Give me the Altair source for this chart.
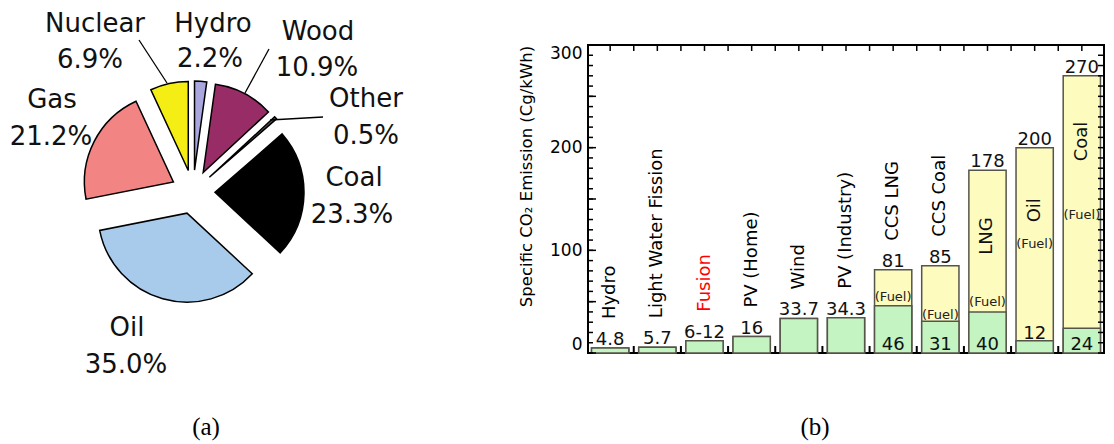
import altair as alt
import numpy as np
import pandas as pd

# ---------------- data : panel (a) ----------------
pie_labels = ["Hydro", "Wood", "Other", "Coal", "Oil", "Gas", "Nuclear"]
pie_shares = [2.2, 10.9, 0.5, 23.3, 35.0, 21.2, 6.9]

# ---------------- data : panel (b) ----------------
bar_categories = ["Hydro", "Light Water Fission", "Fusion", "PV (Home)", "Wind",
                  "PV (Industry)", "CCS LNG", "CCS Coal", "LNG", "Oil", "Coal"]
bar_base = [4.8, 5.7, 12, 16, 33.7, 34.3, 46, 31, 40, 12, 24]
bar_total = [4.8, 5.7, 12, 16, 33.7, 34.3, 81, 85, 178, 200, 270]
top_labels = ["4.8", "5.7", "6-12", "16", "33.7", "34.3", "81", "85", "178", "200", "270"]
base_labels = ["", "", "", "", "", "", "46", "31", "40", "12", "24"]

# ---------------- styles / layout ----------------
FONT = "DejaVu Sans"
SERIF = "Liberation Serif"
pie_colors = ["#aaa6de", "#982c66", "#555555", "#000000", "#a8cbec", "#f38484", "#f4ee14"]
PIE_W, PIE_H = 580, 428
PIE_CX, PIE_CY, PIE_R, PIE_EXPLODE = 185, 181, 89, 22
PIE_FONT = 26
# name x, name baseline y, pct x, pct baseline y (panel pixels)
pie_label_xy = {
    "Nuclear": (87, 21, 82, 57),
    "Hydro": (205, 21, 202, 56),
    "Wood": (310, 29, 309, 65),
    "Other": (358, 96, 358, 133),
    "Coal": (346, 175, 344, 212),
    "Oil": (119, 325, 118, 362),
    "Gas": (44, 97, 43, 134),
}
leader_lines = [(131, 29, 159, 72), (261, 38, 237, 82), (315, 106, 262, 109)]
caption_a_xy = (198, 416)

BAR_W, BAR_H, BAR_TOP = 516, 308, 34
GREEN, YELLOW, BAR_STROKE = "#c4f4c1", "#fdfbbe", "#55554a"
BAR_HALF = 0.395
TXT = 18
name_colors = ["black", "black", "red"] + ["black"] * 8
inbar_name_y = {"LNG": 114, "Oil": 139, "Coal": 206}
fuel_label_y = {"CCS LNG": 54.5, "CCS Coal": 37, "LNG": 50, "Oil": 106, "Coal": 134}
base_label_y = {"CCS LNG": 7.8, "CCS Coal": 7.8, "LNG": 7.8, "Oil": 18.5, "Coal": 7.8}
caption_b_xy = (227, 382)

# ---------------- panel (a): exploded pie ----------------
pie_df = pd.DataFrame({"k": list(range(len(pie_labels))), "label": pie_labels, "share": pie_shares})

px = alt.X("px:Q", scale=None, axis=None)
py = alt.Y("py:Q", scale=None, axis=None)

arcs = (
    alt.Chart(pie_df)
    .transform_window(end="sum(share)", sort=[alt.SortField("k")], frame=[None, 0])
    .transform_calculate(start="datum.end - datum.share")
    .transform_calculate(mid="(datum.start + datum.end) / 2 * 2 * PI / 100")
    .transform_calculate(px=f"{PIE_CX} + {PIE_EXPLODE} * sin(datum.mid)")
    .transform_calculate(py=f"{PIE_CY} - {PIE_EXPLODE} * cos(datum.mid)")
    .mark_arc(radius=PIE_R, stroke="black", strokeWidth=1.5)
    .encode(
        x=px, y=py,
        theta=alt.Theta("start:Q", stack=None,
                        scale=alt.Scale(domain=[0, 100], range=[0, 2 * np.pi])),
        theta2="end:Q",
        color=alt.Color("label:N", scale=alt.Scale(domain=pie_labels, range=pie_colors), legend=None),
    )
)

lab_df = pd.DataFrame({
    "label": pie_labels,
    "pct": [f"{s:.1f}%" for s in pie_shares],
})
lab_df["nx"] = [pie_label_xy[l][0] for l in pie_labels]
lab_df["ny"] = [pie_label_xy[l][1] for l in pie_labels]
lab_df["qx"] = [pie_label_xy[l][2] for l in pie_labels]
lab_df["qy"] = [pie_label_xy[l][3] for l in pie_labels]

names_a = alt.Chart(lab_df).mark_text(fontSize=PIE_FONT, font=FONT, color="#111",
                                      baseline="alphabetic", align="center").encode(
    x=alt.X("nx:Q", scale=None, axis=None), y=alt.Y("ny:Q", scale=None, axis=None), text="label:N")
pcts_a = alt.Chart(lab_df).mark_text(fontSize=PIE_FONT, font=FONT, color="#111",
                                     baseline="alphabetic", align="center").encode(
    x=alt.X("qx:Q", scale=None, axis=None), y=alt.Y("qy:Q", scale=None, axis=None), text="pct:N")

lead_df = pd.DataFrame(leader_lines, columns=["x1", "y1", "x2", "y2"])
leaders = alt.Chart(lead_df).mark_rule(color="black", strokeWidth=1.3).encode(
    x=alt.X("x1:Q", scale=None, axis=None), y=alt.Y("y1:Q", scale=None, axis=None),
    x2="x2:Q", y2="y2:Q")

cap_a = alt.Chart(pd.DataFrame({"t": ["(a)"], "x": [caption_a_xy[0]], "y": [caption_a_xy[1]]})).mark_text(
    font=SERIF, fontSize=25, baseline="middle", align="center", color="black").encode(
    x=alt.X("x:Q", scale=None, axis=None), y=alt.Y("y:Q", scale=None, axis=None), text="t:N")

pie_panel = alt.layer(arcs, leaders, names_a, pcts_a, cap_a).properties(
    width=PIE_W, height=PIE_H, view=alt.ViewBackground(stroke="transparent", strokeWidth=0))

# ---------------- panel (b): stacked bars ----------------
bar_df = pd.DataFrame({
    "idx": list(range(len(bar_categories))),
    "cat": bar_categories,
    "base": bar_base,
    "total": bar_total,
    "top_label": top_labels,
    "base_label": base_labels,
    "ncolor": name_colors,
})
bar_df["inbar"] = [c in inbar_name_y for c in bar_categories]
bar_df["name_y"] = [inbar_name_y.get(c, np.nan) for c in bar_categories]
bar_df["fuel_y"] = [fuel_label_y.get(c, np.nan) for c in bar_categories]
bar_df["base_y"] = [base_label_y.get(c, np.nan) for c in bar_categories]

xscale = alt.Scale(domain=[-0.47, 10.47], nice=False, zero=False)
yscale = alt.Scale(domain=[0, 300], nice=False, zero=True)
yaxis = alt.Axis(values=[0, 100, 200, 300], domain=False, ticks=False, tickSize=0, grid=False,
                 labelFontSize=17, labelPadding=6, labelFlush=True, labelColor="black",
                 labelFont=FONT,
                 title="Specific CO\u2082 Emission (Cg/kWh)", titleFontSize=16.5,
                 titleFontWeight="normal", titleColor="black", titleFont=FONT,
                 titleX=-62, titleY=131, titleAngle=270, titleAlign="center",
                 titleBaseline="middle")


def X(f):
    return alt.X(f, type="quantitative", scale=xscale, axis=None)


def Y(f):
    return alt.Y(f, type="quantitative", scale=yscale, axis=yaxis)


base = alt.Chart(bar_df).transform_calculate(
    x0=f"datum.idx - {BAR_HALF}").transform_calculate(x1=f"datum.idx + {BAR_HALF}")

fuel_bars = base.mark_rect(fill=YELLOW, stroke=BAR_STROKE, strokeWidth=1.5).encode(
    x=X("x0"), x2="x1", y=Y("total"), y2=alt.Y2(datum=0))
green_bars = base.mark_rect(fill=GREEN, stroke=BAR_STROKE, strokeWidth=1.5).encode(
    x=X("x0"), x2="x1", y=Y("base"), y2=alt.Y2(datum=0))

top_txt = base.mark_text(fontSize=TXT, font=FONT, baseline="alphabetic", align="center",
                         dy=-3, color="#111").encode(x=X("idx"), y=Y("total"), text="top_label:N")

names_above = base.transform_filter("!datum.inbar").mark_text(
    fontSize=TXT, font=FONT, angle=270, align="left", baseline="middle", dx=29).encode(
    x=X("idx"), y=Y("total"), text="cat:N", color=alt.Color("ncolor:N", scale=None))
names_in = base.transform_filter("datum.inbar").mark_text(
    fontSize=TXT, font=FONT, angle=270, align="center", baseline="middle", color="#111").encode(
    x=X("idx"), y=Y("name_y"), text="cat:N")
fuel_txt = base.transform_filter("isValid(datum.fuel_y)").transform_calculate(
    ft="'(Fuel)'").mark_text(fontSize=13, font=FONT, align="center", baseline="middle",
                             color="#222").encode(x=X("idx"), y=Y("fuel_y"), text="ft:N")
base_txt = base.transform_filter("isValid(datum.base_y)").mark_text(
    fontSize=TXT, font=FONT, align="center", baseline="middle", color="#111").encode(
    x=X("idx"), y=Y("base_y"), text="base_label:N")

# inward frame ticks
yt = pd.DataFrame({"v": list(range(0, 301, 10))})
xt_top = pd.DataFrame({"v": [i * 0.5 for i in range(0, 21)]})
xt_bot = pd.DataFrame({"v": [i + 0.5 for i in range(0, 10)]})

left_minor = alt.Chart(yt).mark_rule(color="black", strokeWidth=1.5).encode(
    y=Y("v"), x=alt.value(0), x2=alt.value(5))
left_major = alt.Chart(yt).transform_filter("datum.v % 50 == 0").mark_rule(
    color="black", strokeWidth=1.5).encode(y=Y("v"), x=alt.value(0), x2=alt.value(8))
right_t = alt.Chart(yt).mark_rule(color="black", strokeWidth=1.5).encode(
    y=Y("v"), x=alt.value(BAR_W - 6), x2=alt.value(BAR_W))
top_t = alt.Chart(xt_top).mark_rule(color="black", strokeWidth=1.5).encode(
    x=X("v"), y=alt.value(0), y2=alt.value(6))
bot_t = alt.Chart(xt_bot).mark_rule(color="black", strokeWidth=2).encode(
    x=X("v"), y=alt.value(BAR_H - 7), y2=alt.value(BAR_H))

cap_b = alt.Chart(pd.DataFrame({"t": ["(b)"]})).mark_text(
    font=SERIF, fontSize=25, baseline="middle", align="center", color="black").encode(
    x=alt.value(caption_b_xy[0]), y=alt.value(caption_b_xy[1]), text="t:N")

bar_panel = alt.layer(
    fuel_bars, green_bars, top_txt, names_above, names_in, fuel_txt, base_txt,
    left_minor, left_major, right_t, top_t, bot_t, cap_b,
).properties(width=BAR_W, height=BAR_H,
             view=alt.ViewBackground(stroke="black", strokeWidth=2))

spacer = alt.Chart(pd.DataFrame({"v": [0]})).mark_point(opacity=0).encode(
    x=alt.value(0), y=alt.value(0)).properties(
    width=BAR_W, height=BAR_TOP, view=alt.ViewBackground(stroke="transparent", strokeWidth=0))

right_col = alt.vconcat(spacer, bar_panel, spacing=0, bounds="flush")

chart = (
    alt.hconcat(pie_panel, right_col, spacing=0, bounds="flush")
    .properties(padding=0)
    .configure_view(stroke="transparent")
    .configure(font=FONT)
)

chart.save("out.html", embed_options={"renderer": "svg", "actions": False})
